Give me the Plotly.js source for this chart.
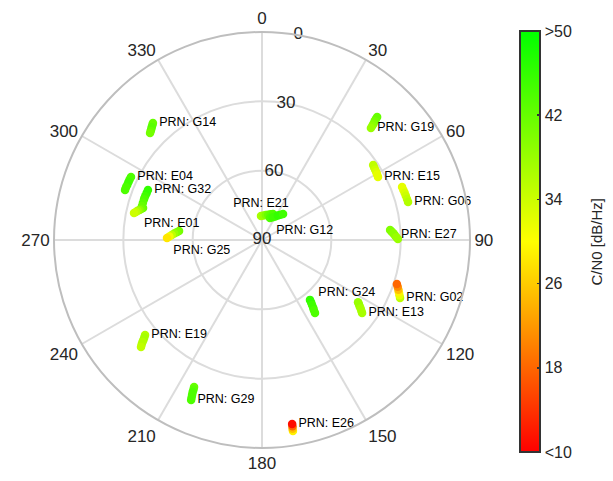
<!DOCTYPE html>
<html>
<head>
<meta charset="utf-8">
<script src="https://cdn.plot.ly/plotly-3.0.1.min.js"></script>
<style>html,body{margin:0;padding:0;background:#fff}#chart{width:613px;height:481px}</style>
</head>
<body>
<div id="chart"></div>
<script>
// Satellite identifiers
const prn = ['G14','E04','G32','E01','G25','E21','G12','G19','E15','G06','E27','G02','E13','G24','E19','G29','E26'];

// Azimuth [deg] per satellite track
const azimuth = [
  [317.0,316.3,315.7,315.0,314.4,313.7],
  [295.7,294.6,293.5,292.3,291.2,290.1],
  [293.7,292.1,290.5,289.0,287.4,285.8],
  [285.1,284.4,283.8,283.2,282.5,281.9],
  [276.2,275.2,274.2,273.2,272.2,271.2],
  [357.6,3.3,8.7,13.8,18.6,22.9],
  [20.0,24.9,29.2,32.9,36.1,38.9],
  [43.1,43.3,43.5,43.8,44.0,44.2],
  [56.0,57.1,58.2,59.3,60.4,61.5],
  [69.3,70.5,71.7,72.9,74.2,75.4],
  [85.5,86.3,87.1,87.9,88.8,89.6],
  [112.8,111.9,110.9,110.0,109.0,108.1],
  [122.9,123.5,124.2,124.8,125.5,126.1],
  [141.3,141.8,142.4,142.9,143.5,144.0],
  [230.9,230.4,229.9,229.5,229.0,228.5],
  [204.8,204.6,204.5,204.3,204.1,203.9],
  [170.8,170.8,170.7,170.7]
];

// Elevation [deg] per satellite track
const elevation = [
  [20.8,21.3,21.7,22.2,22.6,23.0],
  [27.1,27.0,27.0,27.0,26.9,26.9],
  [36.1,36.1,36.0,36.0,36.0,36.0],
  [36.7,36.0,35.4,34.7,34.1,33.4],
  [53.9,52.9,51.9,50.9,49.9,48.9],
  [79.6,79.4,79.1,78.8,78.3,77.8],
  [79.9,79.1,78.3,77.4,76.5,75.5],
  [17.1,18.2,19.2,20.3,21.3,22.4],
  [32.0,32.2,32.4,32.5,32.7,32.9],
  [25.2,25.1,25.0,24.9,24.8,24.7],
  [34.4,33.8,33.1,32.5,31.8,31.2],
  [25.2,25.9,26.6,27.2,27.9,28.6],
  [40.5,39.7,38.9,38.0,37.2,36.4],
  [56.8,55.6,54.5,53.3,52.2,51.0],
  [24.8,23.9,22.9,22.0,21.0,20.1],
  [19.9,18.8,17.7,16.5,15.4,14.3],
  [6.3,7.3,8.3,9.3]
];

// C/N0 [dB/Hz] per satellite track
const cn0 = [
  [42,42,43,43,42,41],
  [44,44,45,45,44,44],
  [46,46,45,44,43,42],
  [42,41,39,37,35,34],
  [41,40,38,35,31,28],
  [37,38,40,42,43,44],
  [44,45,45,46,46,45],
  [42,42,41,40,39,38],
  [35,35,34,33,32,32],
  [32,32,33,34,35,36],
  [40,40,39,39,38,38],
  [35,32,29,25,21,18],
  [38,38,38,37,37,37],
  [46,46,45,45,44,44],
  [36,37,37,36,36,35],
  [42,43,44,44,44,44],
  [29,25,18,11]
];

// Which point of each track carries the PRN label
const labelIndex = [0,0,0,3,5,0,0,5,5,5,3,0,5,2,0,5,3];

// Tick labels
const angleTicks = [0,30,60,90,120,150,180,210,240,270,300,330];
const elevTicks = [0,30,60,90];
const elevLabelAzimuth = 10;
const cbTickVals = [10,18,26,34,42,50];
const cbTickText = ['<10','18','26','34','42','>50'];
const cbTitle = 'C/N0 [dB/Hz]';

// ---- styling (not data) ----
const labelPos = ['middle right','middle right','middle right','bottom right','bottom right','top center','bottom right','middle right','middle right','middle right','middle right','middle right','middle right','top right','middle right','middle right','middle right'];
const FONT = 'Liberation Sans, Arial, Helvetica, sans-serif';

const traces = prn.map((p, i) => {
  const n = azimuth[i].length;
  const txt = [], pos = [];
  for (let k = 0; k < n; k++) {
    txt.push(k === labelIndex[i] ? 'PRN: ' + p : '');
    pos.push(labelPos[i]);
  }
  return {
    type: 'scatterpolar',
    mode: 'markers+text',
    theta: azimuth[i],
    r: elevation[i],
    text: txt,
    textposition: pos,
    textfont: {family: FONT, size: 12.5, color: '#000'},
    marker: {size: 8.5, color: cn0[i], coloraxis: 'coloraxis', line: {width: 0}},
    cliponaxis: false,
    showlegend: false,
    hoverinfo: 'skip'
  };
});

// radial (elevation) tick labels, centred on the 10° azimuth line
traces.push({
  type: 'scatterpolar',
  mode: 'text',
  theta: elevTicks.map(() => elevLabelAzimuth),
  r: elevTicks,
  text: elevTicks.map(String),
  textposition: 'middle center',
  textfont: {family: FONT, size: 17, color: '#262626'},
  cliponaxis: false,
  showlegend: false,
  hoverinfo: 'skip'
});

const layout = {
  width: 613, height: 481,
  margin: {l: 0, r: 0, t: 0, b: 0},
  paper_bgcolor: '#fff',
  font: {family: FONT, color: '#262626'},
  showlegend: false,
  polar: {
    domain: {x: [54/613, 470/613], y: [33/481, 449/481]},
    bgcolor: '#fff',
    angularaxis: {
      direction: 'clockwise', rotation: 90,
      tickmode: 'array', tickvals: angleTicks, ticktext: angleTicks.map(String),
      ticks: '', tickfont: {size: 17, color: '#262626'},
      showline: true, linecolor: 'rgb(190,190,190)', linewidth: 2,
      gridcolor: 'rgb(220,220,220)', gridwidth: 2
    },
    radialaxis: {
      range: [90, 0], angle: 80,
      tickmode: 'array', tickvals: elevTicks,
      showticklabels: false,
      ticks: '', showline: false,
      gridcolor: 'rgb(220,220,220)', gridwidth: 2
    }
  },
  coloraxis: {
    cmin: 10, cmax: 50,
    colorscale: [[0, 'rgb(255,0,0)'], [0.5, 'rgb(255,255,0)'], [1, 'rgb(0,255,0)']],
    colorbar: {
      x: 520/613, xanchor: 'left', xpad: 0,
      y: (481-241.5)/481, yanchor: 'middle', ypad: 0,
      lenmode: 'pixels', len: 421, thickness: 20,
      outlinewidth: 2, outlinecolor: '#333',
      tickmode: 'array', tickvals: cbTickVals, ticktext: cbTickText,
      ticks: 'inside', ticklen: 4, tickwidth: 1.5, tickcolor: '#333',
      tickfont: {size: 16, color: '#262626'}
    }
  },
  annotations: [{
    text: cbTitle, xref: 'paper', yref: 'paper',
    x: 596/613, y: (481-241.5)/481, xanchor: 'center', yanchor: 'middle',
    textangle: -90, showarrow: false,
    font: {family: FONT, size: 15, color: '#262626'}
  }]
};

Plotly.newPlot('chart', traces, layout, {staticPlot: true, displayModeBar: false});
</script>
</body>
</html>
